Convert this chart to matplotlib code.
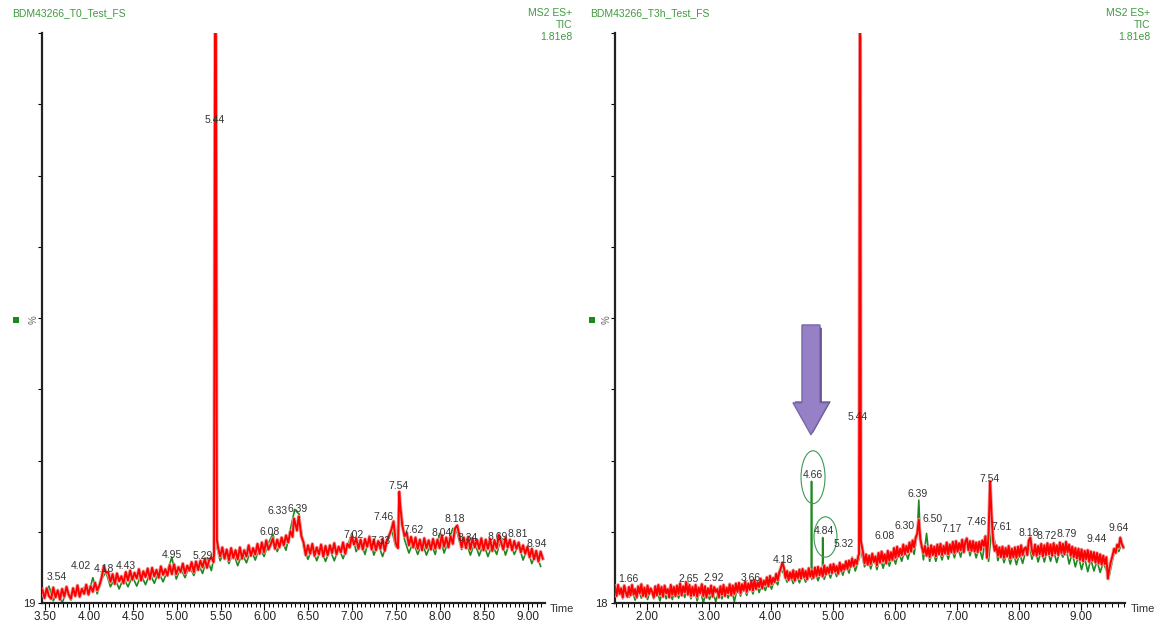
import matplotlib.pyplot as plt
import matplotlib.patches as mpatches
import numpy as np

# ---- T0 panel (left) ----
# red TIC, sampled every 0.025 min from 3.47
t0_red_start = 3.47
t0_red = [20.9, 19.7, 21.1, 20.0, 19.6, 21.2, 19.8, 20.8, 19.5, 21.0,
          19.9, 21.3, 20.2, 19.6, 21.1, 20.0, 21.5, 19.9, 21.0, 20.3,
          21.6, 20.2, 21.4, 20.6, 21.9, 20.8, 21.5, 22.6, 24.2, 23.3,
          23.4, 22.0, 23.1, 21.7, 23.2, 22.1, 22.8, 21.8, 23.4, 22.2,
          23.6, 22.3, 23.3, 22.5, 23.8, 22.2, 23.5, 22.7, 23.9, 22.4,
          24.0, 22.8, 23.7, 22.6, 24.2, 23.0, 23.8, 22.9, 24.4, 23.1,
          24.5, 23.1, 24.1, 23.4, 24.6, 23.2, 24.3, 23.6, 24.8, 23.4,
          24.9, 23.7, 25.0, 24.1, 25.3, 24.0, 25.1, 25.5, 24.8, 100.0,
          27.0, 25.6, 26.9, 25.3, 26.6, 25.1, 26.8, 25.4, 26.5, 25.2,
          26.9, 25.3, 26.5, 25.6, 27.2, 25.7, 26.8, 25.9, 27.4, 26.0,
          27.6, 26.2, 27.9, 26.6, 27.3, 28.2, 26.7, 28.0, 26.9, 28.3,
          27.2, 28.6, 27.6, 29.2, 28.4, 30.6, 29.3, 30.9, 28.5, 27.6,
          25.8, 27.2, 26.0, 27.4, 25.7, 26.9, 25.9, 27.3, 25.6, 27.1,
          25.8, 27.2, 26.1, 27.5, 25.9, 27.0, 26.2, 27.6, 26.0, 27.4,
          26.9, 28.5, 27.3, 28.2, 26.7, 28.0, 26.6, 28.1, 27.0, 28.4,
          26.6, 28.0, 26.5, 27.8, 26.7, 28.1, 26.4, 27.9, 28.6, 29.4,
          30.6, 27.5, 26.8, 33.0, 30.0, 28.5, 29.0, 27.2, 28.4, 26.9,
          28.3, 26.7, 28.0, 26.5, 28.2, 26.8, 27.9, 26.6, 28.1, 26.7,
          28.0, 26.8, 28.6, 27.0, 28.3, 26.9, 28.5, 27.4, 29.6, 30.0,
          28.6, 26.9, 28.3, 26.8, 28.4, 26.6, 28.2, 26.9, 28.0, 26.7,
          28.2, 26.5, 28.0, 26.7, 28.1, 26.4, 27.9, 26.8, 28.7, 27.6,
          26.6, 28.3, 26.9, 28.0, 26.5, 27.8, 26.7, 27.6, 26.2, 27.2,
          26.0, 27.0, 25.5, 26.7, 25.2, 26.4, 24.9, 26.3, 25.3]
t0_red_peak_t = [5.425, 5.437, 5.447, 5.458, 6.335, 6.39, 7.535]
t0_red_peak_y = [26.0, 100.0, 99.5, 28.0, 31.0, 31.3, 34.8]

# green TIC, sampled every 0.05 min from 3.495
t0_green_start = 3.495
t0_green = [20.0, 21.4, 19.3, 20.8, 19.0, 20.6, 19.4, 21.0, 19.8, 21.2,
            20.1, 22.6, 20.3, 22.4, 23.4, 21.3, 22.5, 21.0, 22.6, 21.3,
            22.8, 21.4, 23.0, 21.6, 23.2, 21.8, 23.4, 22.0, 23.6, 25.5,
            22.4, 24.0, 22.6, 24.3, 22.9, 24.6, 23.2, 25.4, 23.6, 95.0,
            25.0, 26.5, 24.6, 26.2, 24.3, 26.0, 24.7, 26.6, 25.1, 27.0,
            25.6, 27.5, 28.8, 26.3, 28.0, 26.5, 29.5, 32.3, 31.6, 27.0,
            25.2, 26.9, 25.0, 26.7, 24.9, 26.6, 25.0, 26.8, 25.3, 27.0,
            28.9, 26.3, 27.6, 25.9, 28.6, 25.8, 27.4, 25.6, 27.5, 29.6,
            27.0, 33.5, 28.0, 26.1, 27.7, 25.9, 27.6, 25.8, 27.5, 25.9,
            28.9, 26.1, 27.8, 29.6, 29.0, 26.6, 27.8, 25.8, 27.6, 25.7,
            27.5, 25.6, 27.3, 25.9, 28.3, 25.8, 27.7, 25.9, 27.3, 25.1,
            26.7, 24.6, 26.1, 24.2]
t0_green_peak_t = [5.432, 5.456]
t0_green_peak_y = [26.0, 27.0]

t0_labels = ['3.54', '4.02', '4.18', '4.43', '4.95', '5.29', '5.44', '6.08',
             '6.33', '6.39', '7.02', '7.33', '7.46', '7.54', '7.62', '8.04',
             '8.18', '8.34', '8.69', '8.81', '8.94']
t0_label_t = [3.637, 3.910, 4.172, 4.423, 4.947, 5.300, 5.436, 6.063,
              6.154, 6.382, 7.019, 7.327, 7.350, 7.521, 7.703, 8.022,
              8.170, 8.318, 8.660, 8.888, 9.104]
t0_label_y = [22.7, 24.3, 23.8, 24.3, 25.8, 25.7, 87.6, 29.1,
              32.1, 32.4, 28.7, 27.8, 31.2, 35.6, 29.4, 29.0,
              30.9, 28.2, 28.4, 28.8, 27.4]

# ---- T3h panel (right) ----
t3_red_start = 1.49
t3_red = [20.4, 19.0, 20.6, 19.3, 20.1, 18.8, 20.5, 19.5, 18.9, 20.3,
          19.1, 20.6, 19.2, 20.0, 18.8, 20.4, 19.4, 20.7, 19.0, 20.2,
          18.9, 20.5, 19.3, 20.1, 19.6, 18.8, 20.4, 19.1, 20.6, 19.2,
          20.3, 18.9, 20.5, 19.4, 20.0, 18.8, 20.6, 19.2, 20.3, 19.0,
          20.5, 19.3, 20.8, 19.1, 20.4, 19.5, 21.0, 19.2, 20.6, 19.0,
          20.3, 19.1, 20.6, 18.9, 20.2, 19.4, 20.7, 19.0, 20.4, 18.8,
          20.1, 19.3, 20.5, 18.9, 20.3, 19.6, 20.0, 18.8, 20.4, 19.2,
          20.6, 19.0, 20.2, 19.4, 20.7, 19.1, 20.5, 19.3, 20.8, 19.6,
          20.9, 19.4, 20.7, 19.8, 21.1, 19.6, 20.8, 19.9, 21.2, 19.8,
          21.3, 20.0, 21.0, 20.3, 21.5, 20.1, 21.2, 20.6, 21.7, 20.4,
          21.9, 20.7, 21.6, 21.0, 22.2, 21.3, 22.4, 23.0, 23.8, 23.1,
          21.6, 22.6, 21.3, 22.4, 21.5, 22.7, 21.2, 22.5, 21.6, 22.8,
          21.5, 22.9, 21.7, 22.6, 21.4, 23.0, 21.8, 22.7, 21.6, 23.1,
          21.9, 23.2, 22.0, 23.0, 21.8, 23.4, 22.1, 23.1, 22.3, 23.5,
          22.3, 23.6, 22.5, 23.3, 22.2, 23.8, 22.6, 23.5, 22.8, 24.0,
          22.9, 24.1, 23.2, 24.4, 23.3, 24.2, 23.6, 24.8, 100.0, 26.5,
          25.3, 23.7, 25.0, 23.5, 24.8, 23.6, 25.1, 23.9, 24.7, 23.4,
          25.2, 23.8, 25.4, 24.0, 25.0, 23.7, 25.5, 24.1, 25.3, 24.2,
          25.9, 24.5, 26.1, 24.7, 25.8, 24.9, 26.4, 25.0, 26.2, 25.3,
          26.7, 25.4, 27.0, 26.0, 27.4, 28.0, 30.0, 27.2, 26.0, 25.2,
          26.2, 24.8, 26.0, 24.6, 26.3, 24.9, 26.1, 24.7, 26.4, 25.0,
          26.5, 24.9, 26.2, 25.1, 26.7, 25.0, 26.4, 25.3, 26.8, 25.2,
          26.9, 25.4, 26.6, 25.6, 27.1, 25.3, 26.8, 27.3, 25.6, 26.9,
          25.5, 26.9, 25.4, 26.7, 25.3, 26.8, 25.6, 27.0, 26.2, 27.6,
          24.5, 27.8, 35.5, 30.5, 26.8, 25.5, 26.3, 24.8, 26.0, 24.6,
          26.1, 24.5, 25.9, 24.7, 26.2, 24.4, 25.8, 24.6, 26.0, 24.5,
          26.1, 24.7, 26.3, 24.9, 25.8, 26.0, 24.9, 27.0, 27.4, 25.6,
          24.9, 26.4, 24.8, 26.2, 25.0, 26.5, 24.7, 26.3, 24.9, 26.6,
          25.0, 26.4, 24.8, 26.6, 25.1, 26.3, 24.9, 26.7, 25.2, 26.5,
          25.0, 26.8, 25.3, 26.4, 24.8, 26.1, 24.6, 25.9, 24.4, 25.8,
          24.2, 25.7, 24.0, 25.5, 24.3, 25.6, 23.9, 25.4, 24.1, 25.3,
          23.8, 25.2, 23.7, 25.0, 23.5, 24.8, 23.6, 24.6, 21.5, 23.0,
          24.0, 24.8, 25.8, 25.2, 26.4, 26.0, 27.4, 26.5, 26.0]
t3_red_peak_t = [5.426, 5.447, 5.456]
t3_red_peak_y = [25.0, 99.5, 27.0]

t3_green_start = 1.515
t3_green = [19.5, 20.3, 18.6, 20.2, 18.8, 19.9, 18.4, 20.0, 18.7, 19.8,
            18.5, 20.1, 18.6, 19.9, 18.3, 20.0, 18.6, 19.8, 18.5, 20.3,
            18.7, 20.0, 18.8, 20.9, 18.6, 20.2, 18.3, 19.9, 18.0, 20.0,
            18.5, 19.7, 18.2, 19.8, 18.6, 20.0, 18.7, 20.1, 18.2, 20.2,
            19.0, 20.4, 19.1, 20.7, 19.3, 20.8, 19.5, 21.0, 19.8, 21.2,
            20.0, 21.5, 20.6, 22.8, 22.2, 21.0, 22.0, 20.8, 22.1, 20.9,
            22.2, 21.0, 22.4, 21.4, 22.5, 21.2, 22.6, 21.4, 22.8, 21.6,
            23.0, 21.8, 23.2, 22.0, 23.5, 22.3, 24.6, 22.6, 24.0, 25.2,
            23.2, 24.7, 22.9, 24.5, 22.8, 24.6, 23.0, 24.8, 23.3, 25.0,
            23.6, 25.4, 24.0, 25.7, 24.3, 26.2, 25.0, 28.0, 27.5, 24.2,
            28.0, 24.0, 25.6, 24.0, 25.7, 24.2, 25.9, 24.3, 26.1, 24.5,
            26.2, 24.6, 26.5, 27.4, 24.8, 26.3, 24.5, 26.0, 24.3, 27.4,
            24.0, 28.5, 26.9, 24.1, 25.6, 23.8, 25.4, 23.6, 25.3, 23.5,
            25.2, 23.7, 25.5, 26.8, 24.3, 25.7, 23.9, 25.6, 23.9, 25.7,
            24.0, 25.6, 23.8, 25.5, 24.6, 25.9, 23.6, 25.2, 23.2, 24.8,
            22.8, 24.5, 22.5, 24.3, 22.6, 24.1, 22.4, 23.8, 22.7, 22.0,
            24.2, 26.0, 25.4, 26.6]
t3_green_peak_t = [4.655, 4.66, 4.835, 4.84, 4.845, 5.433, 5.441, 5.45, 6.39]
t3_green_peak_y = [21.6, 35.5, 22.0, 27.4, 22.0, 24.5, 97.0, 26.0, 32.8]

t3_labels = ['1.66', '2.65', '2.92', '3.66', '4.18', '4.66', '4.84', '5.32',
             '5.44', '6.08', '6.30', '6.39', '6.50', '7.17', '7.46', '7.54',
             '7.61', '8.18', '8.72', '8.79', '9.44', '9.64']
t3_label_t = [1.700, 2.684, 3.087, 3.684, 4.200, 4.684, 4.861, 5.184,
              5.409, 5.845, 6.168, 6.377, 6.619, 6.925, 7.313, 7.523,
              7.732, 8.168, 8.458, 8.780, 9.264, 9.619]
t3_label_y = [21.5, 21.5, 21.6, 21.6, 24.2, 36.4, 28.3, 26.5,
              44.8, 27.7, 29.1, 33.7, 30.1, 28.6, 29.7, 35.9,
              29.0, 28.1, 27.7, 27.9, 27.2, 28.8]

GREEN_TXT = '#3f9a3f'
TRACE_RED = '#ff0000'
TRACE_GREEN = '#1e8a1e'


def merge(start, step, vals, peak_t, peak_y):
    t = start + step * np.arange(len(vals))
    t = np.concatenate([t, peak_t])
    y = np.concatenate([vals, peak_y])
    order = np.argsort(t)
    return t[order], y[order]


def draw_panel(ax, red, green, labels, xlim, ymin, major, minor):
    gt, gy = green
    rt, ry = red
    ax.plot(gt, gy, color=TRACE_GREEN, lw=1.2, zorder=2)
    ax.plot(rt, ry, color='#eba4a4', lw=2.6, zorder=3)
    ax.plot(rt, ry, color=TRACE_RED, lw=1.4, zorder=4)

    for s, x, y in zip(*labels):
        ax.text(x, y, s, fontsize=7.5, color='#333333', ha='center',
                va='center', family='Liberation Sans', zorder=6)

    ax.set_xlim(*xlim)
    ax.set_ylim(ymin, 100)
    for side in ['top', 'right']:
        ax.spines[side].set_visible(False)
    ax.spines['left'].set_linewidth(1.6)
    ax.spines['bottom'].set_linewidth(1.6)
    ax.spines['left'].set_color('#222222')
    ax.spines['bottom'].set_color('#222222')

    ax.set_xticks(np.arange(np.ceil(xlim[0] / major) * major, xlim[1], major))
    ax.set_xticks(np.arange(np.ceil(xlim[0] / minor) * minor, xlim[1], minor),
                  minor=True)
    ax.xaxis.set_major_formatter(plt.FormatStrFormatter('%.2f'))
    ax.tick_params(axis='x', which='major', length=5, width=0.8,
                   labelsize=8.5, labelcolor='#222222', pad=1)
    ax.tick_params(axis='x', which='minor', length=3, width=0.7)

    yt = np.linspace(ymin, 100, 9)
    ax.set_yticks(yt)
    ax.set_yticklabels([str(ymin)] + [''] * 8)
    ax.tick_params(axis='y', direction='out', length=3, width=0.8,
                   labelsize=8, labelcolor='#222222', pad=2)
    for lab in ax.get_xticklabels() + ax.get_yticklabels():
        lab.set_family('Liberation Sans')


fig = plt.figure(figsize=(11.54, 6.26), dpi=100)
W, H = 1154.0, 626.0

ax1 = fig.add_axes([42 / W, 23 / H, 503 / W, 570 / H])
draw_panel(ax1,
           merge(t0_red_start, 0.025, t0_red, t0_red_peak_t, t0_red_peak_y),
           merge(t0_green_start, 0.05, t0_green, t0_green_peak_t, t0_green_peak_y),
           (t0_labels, t0_label_t, t0_label_y),
           (3.466, 9.195), 19, 0.5, 0.05)

ax2 = fig.add_axes([615 / W, 23 / H, 510 / W, 570 / H])
draw_panel(ax2,
           merge(t3_red_start, 0.025, t3_red, t3_red_peak_t, t3_red_peak_y),
           merge(t3_green_start, 0.05, t3_green, t3_green_peak_t, t3_green_peak_y),
           (t3_labels, t3_label_t, t3_label_y),
           (1.49, 9.716), 18, 1.0, 0.1)

# ellipses around the new peaks
ax2.add_patch(mpatches.Ellipse((4.684, 36.1), 0.387, 7.6, fill=False,
                               ec='#3c9a55', lw=0.8, zorder=5))
ax2.add_patch(mpatches.Ellipse((4.885, 27.5), 0.371, 5.8, fill=False,
                               ec='#3c9a55', lw=0.8, zorder=5))

# purple block arrow with a shadow
ax2.add_patch(mpatches.FancyArrow(4.68, 57.6, 0, -15.2, width=0.29,
                                  head_width=0.58, head_length=4.6,
                                  length_includes_head=True,
                                  fc='#4a3c6e', ec='none', zorder=6))
ax2.add_patch(mpatches.FancyArrow(4.651, 58.0, 0, -15.8, width=0.29,
                                  head_width=0.58, head_length=4.6,
                                  length_includes_head=True,
                                  fc='#9680c6', ec='#7a66aa', lw=1.0, zorder=7))

# header texts
hdr = dict(fontsize=7.5, color=GREEN_TXT, family='Liberation Sans')
fig.text(12 / W, 1 - 13 / H, 'BDM43266_T0_Test_FS', ha='left', va='center', **hdr)
fig.text(590 / W, 1 - 13 / H, 'BDM43266_T3h_Test_FS', ha='left', va='center', **hdr)
for xr in [572, 1150]:
    fig.text(xr / W, 1 - 13 / H, 'MS2 ES+', ha='right', va='center', **hdr)
    fig.text(xr / W, 1 - 25 / H, 'TIC', ha='right', va='center', **hdr)
    fig.text(xr / W, 1 - 37 / H, '1.81e8', ha='right', va='center', **hdr)

for xs, xp in [(16, 34), (592, 607)]:
    fig.patches.append(mpatches.Rectangle(((xs - 3) / W, 1 - 323 / H), 6 / W, 6 / H,
                                          transform=fig.transFigure,
                                          fc='#1e8a1e', ec='none'))
    fig.text(xp / W, 1 - 320 / H, '%', rotation=90, ha='center', va='center',
             fontsize=7, color='#666666', family='Liberation Sans')

for xt in [550, 1131]:
    fig.text(xt / W, 1 - 609 / H, 'Time', ha='left', va='center',
             fontsize=8, color='#333333', family='Liberation Sans')

fig.savefig('out.png', dpi=100)
